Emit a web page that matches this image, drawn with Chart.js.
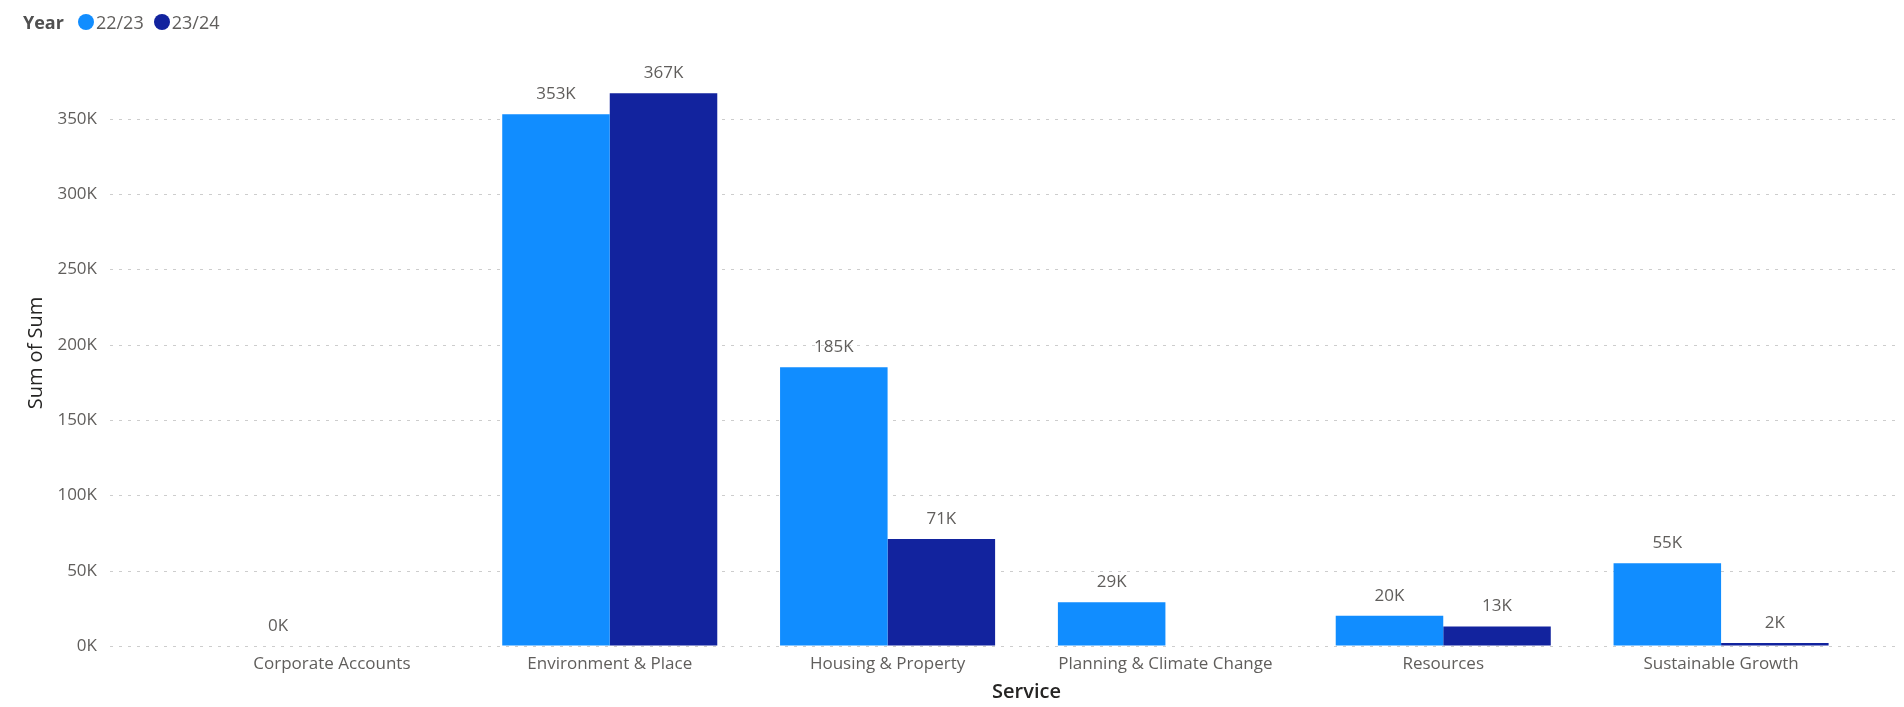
<!DOCTYPE html>
<html>
<head>
<meta charset="utf-8">
<script src="https://cdn.jsdelivr.net/npm/chart.js@4.4.1/dist/chart.umd.min.js"></script>
<style>
  html, body { margin: 0; padding: 0; background: #ffffff; overflow: hidden; }
  #wrap { position: relative; width: 1904px; height: 707px; }
  #chart { position: absolute; left: 0; top: 0; }
  #legend { position: absolute; left: 23px; top: 8px; height: 28px; display: flex; align-items: center;
            font-family: 'Open Sans', 'Noto Sans', sans-serif; font-size: 18px; color: #605E5C; white-space: nowrap; }
  #legend .title { font-weight: 700; color: #505050; margin-right: 14px; }
  #legend .dot { width: 16px; height: 16px; border-radius: 50%; display: inline-block; margin-right: 2px; }
  #legend .item { display: flex; align-items: center; margin-right: 10px; }
</style>
</head>
<body>
<div id="wrap">
  <canvas id="chart" width="1904" height="707"></canvas>
  <div id="legend"></div>
</div>
<script>
// ---- data ----
const categories = ['Corporate Accounts', 'Environment & Place', 'Housing & Property', 'Planning & Climate Change', 'Resources', 'Sustainable Growth'];
const seriesNames = ['22/23', '23/24'];
const values2223 = [0, 353000, 185000, 29000, 20000, 55000];
const values2324 = [null, 367000, 71000, null, 13000, 2000];
const yTickValues = [0, 50000, 100000, 150000, 200000, 250000, 300000, 350000];
const legendTitle = 'Year';
const xTitle = 'Service';
const yTitle = 'Sum of Sum';

const seriesColors = ['#118DFF', '#12239E'];
const FONT = "'Open Sans', 'Noto Sans', sans-serif";

// ---- legend (HTML text) ----
const legend = document.getElementById('legend');
const lt = document.createElement('span'); lt.className = 'title'; lt.textContent = legendTitle; legend.appendChild(lt);
seriesNames.forEach((n, i) => {
  const it = document.createElement('span'); it.className = 'item';
  const d = document.createElement('span'); d.className = 'dot'; d.style.background = seriesColors[i];
  const t = document.createElement('span'); t.textContent = n;
  it.appendChild(d); it.appendChild(t); legend.appendChild(it);
});

const fmtK = v => Math.round(v / 1000) + 'K';

// extended dotted gridlines (span wider than the category area, as in the reference)
const gridPlugin = {
  id: 'extGrid',
  beforeDatasetsDraw(chart) {
    const ctx = chart.ctx, y = chart.scales.y;
    ctx.save();
    ctx.strokeStyle = '#CDCDCD';
    ctx.lineWidth = 1;
    ctx.setLineDash([3, 6]);
    y.ticks.forEach(t => {
      const py = Math.round(y.getPixelForValue(t.value)) + 0.5;
      ctx.beginPath();
      ctx.moveTo(110, py);
      ctx.lineTo(1900, py);
      ctx.stroke();
    });
    ctx.restore();
  }
};

const labelPlugin = {
  id: 'dataLabels',
  afterDatasetsDraw(chart) {
    const ctx = chart.ctx;
    ctx.save();
    ctx.font = '17px ' + FONT;
    ctx.fillStyle = '#605E5C';
    ctx.textAlign = 'center';
    ctx.textBaseline = 'middle';
    chart.data.datasets.forEach((ds, di) => {
      const meta = chart.getDatasetMeta(di);
      meta.data.forEach((el, i) => {
        const v = ds.data[i];
        if (v === null || v === undefined) return;
        ctx.fillText(fmtK(v), el.x, el.y - 20);
      });
    });
    ctx.restore();
  }
};

new Chart(document.getElementById('chart'), {
  type: 'bar',
  data: {
    labels: categories,
    datasets: [
      { label: seriesNames[0], data: values2223, backgroundColor: seriesColors[0] },
      { label: seriesNames[1], data: values2324, backgroundColor: seriesColors[1] }
    ]
  },
  options: {
    responsive: false,
    animation: false,
    devicePixelRatio: 1,
    categoryPercentage: 0.774,
    barPercentage: 1.0,
    layout: { padding: { top: 60, right: 44, left: 0, bottom: 0 } },
    plugins: { legend: { display: false }, tooltip: { enabled: false } },
    scales: {
      x: {
        type: 'category',
        offset: true,
        grid: { display: false, drawTicks: false },
        border: { display: false },
        ticks: { color: '#605E5C', font: { family: FONT, size: 17 }, padding: 8, maxRotation: 0, autoSkip: false },
        title: { display: true, text: xTitle, color: '#252423', font: { family: FONT, size: 20, weight: '600' }, padding: { top: 0, bottom: 3 } },
        afterFit(scale) { scale.height = 61; }
      },
      y: {
        min: 0,
        max: 389000,
        grid: { display: true, drawOnChartArea: false, drawTicks: true, tickLength: 90, tickColor: 'rgba(0,0,0,0)' },
        border: { display: false },
        afterBuildTicks(scale) { scale.ticks = yTickValues.map(v => ({ value: v })); },
        ticks: { color: '#605E5C', font: { family: FONT, size: 17 }, padding: 6, callback: v => fmtK(v) },
        title: { display: true, text: yTitle, color: '#252423', font: { family: FONT, size: 20 }, padding: { top: 24, bottom: 0 } },
        afterFit(scale) { scale.width = 193; }
      }
    }
  },
  plugins: [gridPlugin, labelPlugin]
});
</script>
</body>
</html>
